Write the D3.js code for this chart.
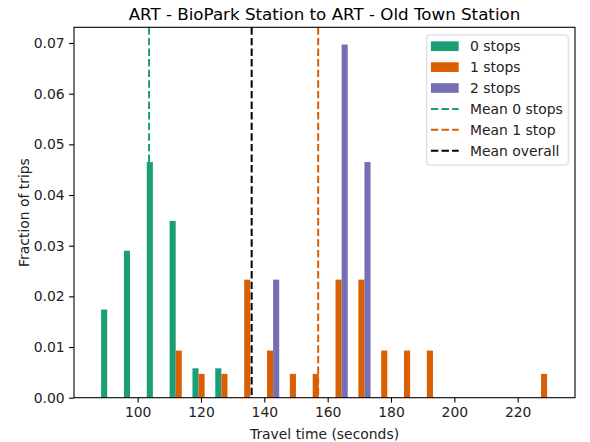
<!DOCTYPE html>
<html>
<head>
<meta charset="utf-8">
<script src="https://cdn.jsdelivr.net/npm/d3@7/dist/d3.min.js"></script>
<style>
  html, body { margin: 0; padding: 0; background: #ffffff; }
  svg { display: block; font-family: "DejaVu Sans", sans-serif; }
</style>
</head>
<body>
<svg id="chart" width="590" height="442"></svg>
<script>
// ---- data ----
const title = "ART - BioPark Station to ART - Old Town Station";
const xLabel = "Travel time (seconds)";
const yLabel = "Fraction of trips";
const seriesNames = ["0 stops", "1 stops", "2 stops"];
const seriesColors = ["#1b9e77", "#d95f02", "#7570b3"];
const binStart = 87.74;      // left edge of first bin (seconds)
const binWidth = 7.21;       // bin width (seconds)
const binCount = 20;
// density per bin, one array per series
const stops0 = [0.0174, 0.0290, 0.0465, 0.0349, 0.0058, 0.0058, 0, 0, 0, 0, 0, 0, 0, 0, 0, 0, 0, 0, 0, 0];
const stops1 = [0, 0, 0, 0.0093, 0.0047, 0.0047, 0.0233, 0.0093, 0.0047, 0.0047, 0.0233, 0.0233, 0.0093, 0.0093, 0.0093, 0, 0, 0, 0, 0.0047];
const stops2 = [0, 0, 0, 0, 0, 0, 0, 0.0233, 0, 0, 0.0697, 0.0465, 0, 0, 0, 0, 0, 0, 0, 0];
const meanNames = ["Mean 0 stops", "Mean 1 stop", "Mean overall"];
const meanValues = [103.6, 157.0, 136.0];
const meanColors = ["#1b9e77", "#d95f02", "#000000"];
const xTicks = [100, 120, 140, 160, 180, 200, 220];
const yTicks = [0, 0.01, 0.02, 0.03, 0.04, 0.05, 0.06, 0.07];

// ---- layout ----
const svg = d3.select("#chart");
const L = 74, R = 575, T = 27.3, B = 397.7;
const fs = 13.9;

const x = d3.scaleLinear().domain([79.9, 238.1]).range([L, R]);
const y = d3.scaleLinear().domain([0, 0.0731]).range([B, T]);

const series = [stops0, stops1, stops2];
const bins = d3.range(binCount).map(i => binStart + i * binWidth);
const barW = binWidth * 0.8 / series.length;

// bars
series.forEach((vals, si) => {
  svg.append("g").selectAll("rect")
    .data(vals.map((v, i) => ({ v, e: bins[i] })))
    .join("rect")
    .attr("x", d => x(d.e + 0.1 * binWidth + si * barW))
    .attr("width", d => x(d.e + 0.1 * binWidth + (si + 1) * barW) - x(d.e + 0.1 * binWidth + si * barW))
    .attr("y", d => y(d.v))
    .attr("height", d => y(0) - y(d.v))
    .attr("fill", seriesColors[si]);
});

// mean lines
svg.append("g").selectAll("line")
  .data(meanValues)
  .join("line")
  .attr("x1", d => x(d)).attr("x2", d => x(d))
  .attr("y1", T).attr("y2", B)
  .attr("stroke", (d, i) => meanColors[i])
  .attr("stroke-width", 2)
  .attr("stroke-dasharray", "7.4,3.2");

// axes
const xAxis = d3.axisBottom(x).tickValues(xTicks).tickSize(4.9).tickPadding(4.5).tickFormat(d3.format("d"));
const yAxis = d3.axisLeft(y).tickValues(yTicks).tickSize(4.9).tickPadding(4.5).tickFormat(d3.format(".2f"));

const gx = svg.append("g").attr("transform", `translate(0,${B})`).call(xAxis);
const gy = svg.append("g").attr("transform", `translate(${L},0)`).call(yAxis);
[gx, gy].forEach(g => {
  g.select(".domain").remove();
  g.selectAll(".tick line").attr("stroke", "#000").attr("stroke-width", 1.1);
  g.selectAll(".tick text").attr("fill", "#222").style("font-size", fs + "px").style("font-family", "DejaVu Sans");
});

// frame
svg.append("rect")
  .attr("x", L).attr("y", T).attr("width", R - L).attr("height", B - T)
  .attr("fill", "none").attr("stroke", "#000").attr("stroke-width", 1.1);

// title & labels
svg.append("text").attr("x", (L + R) / 2).attr("y", 19.5)
  .attr("text-anchor", "middle").style("font-size", "16.7px").attr("fill", "#000").text(title);
svg.append("text").attr("x", (L + R) / 2).attr("y", 438.5)
  .attr("text-anchor", "middle").style("font-size", fs + "px").attr("fill", "#222").text(xLabel);
svg.append("text").attr("transform", `translate(29,${(T + B) / 2}) rotate(-90)`)
  .attr("text-anchor", "middle").style("font-size", fs + "px").attr("fill", "#222").text(yLabel);

// legend
const lg = svg.append("g");
lg.append("rect").attr("x", 426.7).attr("y", 35).attr("width", 141.6).attr("height", 130)
  .attr("rx", 2.8).attr("fill", "#fff").attr("fill-opacity", 0.8)
  .attr("stroke", "#d6d6d6").attr("stroke-width", 1);
const rowY = i => 46.2 + i * 20.9;
const hx0 = 430.9, hx1 = 458.7, tx = 470;
seriesNames.forEach((n, i) => {
  lg.append("rect").attr("x", hx0).attr("y", rowY(i) - 4.85).attr("width", hx1 - hx0).attr("height", 9.7)
    .attr("fill", seriesColors[i]);
  lg.append("text").attr("x", tx).attr("y", rowY(i) + 5).style("font-size", fs + "px").attr("fill", "#222").text(n);
});
meanNames.forEach((n, k) => {
  const i = k + 3;
  lg.append("line").attr("x1", hx0).attr("x2", hx1).attr("y1", rowY(i)).attr("y2", rowY(i))
    .attr("stroke", meanColors[k]).attr("stroke-width", 2).attr("stroke-dasharray", "7.4,3.2");
  lg.append("text").attr("x", tx).attr("y", rowY(i) + 5).style("font-size", fs + "px").attr("fill", "#222").text(n);
});
</script>
</body>
</html>
